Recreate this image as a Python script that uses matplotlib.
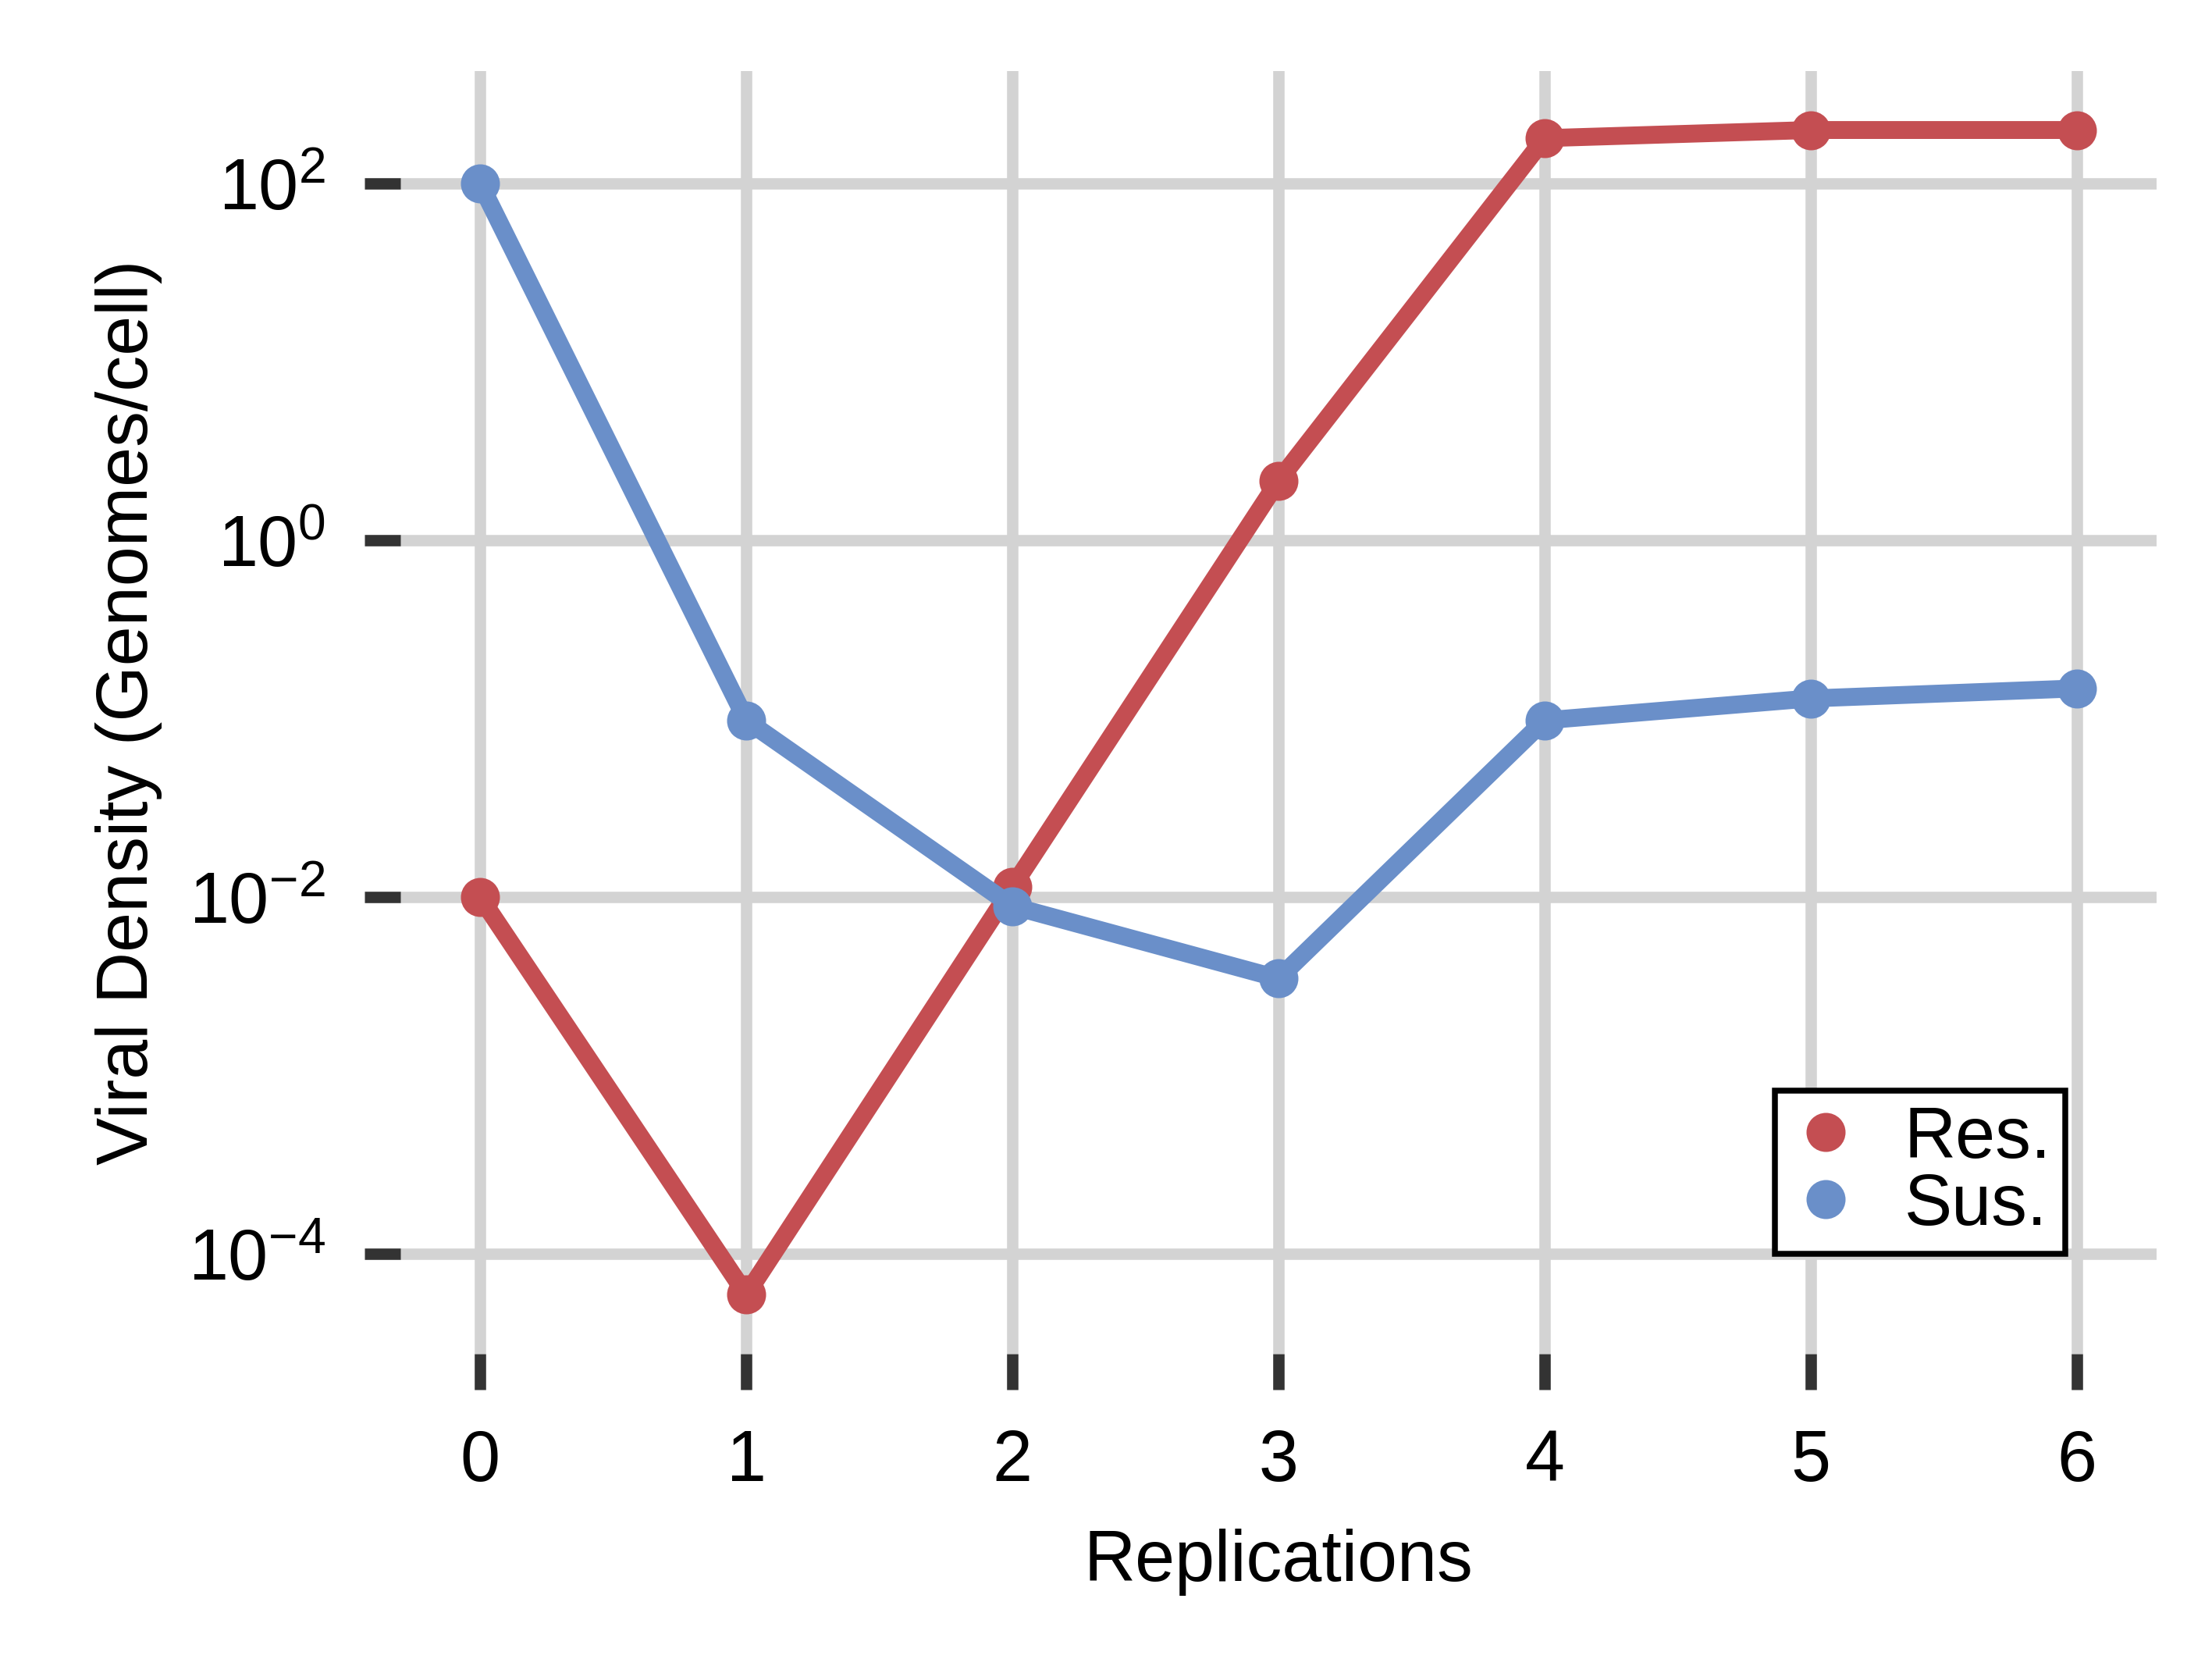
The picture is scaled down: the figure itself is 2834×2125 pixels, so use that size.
import matplotlib
matplotlib.use("Agg")
import matplotlib.pyplot as plt

replications = [0, 1, 2, 3, 4, 5, 6]
res = [1e-2, 5.9e-5, 1.14e-2, 2.16, 180, 200, 200]
sus = [100, 0.098, 0.0089, 0.0035, 0.098, 0.13, 0.148]

plt.rcParams['font.family'] = ['Liberation Sans', 'DejaVu Sans']
plt.rcParams['mathtext.fontset'] = 'custom'
plt.rcParams['mathtext.rm'] = 'Liberation Sans'
fig = plt.figure(figsize=(2834/300, 2125/300), dpi=300)
ax = fig.add_axes([0.181, 0.184, 0.794, 0.773])
red = '#C44E52'
blue = '#6A8FC9'
ax.plot(replications, res, color=red, lw=5.5, marker='o', ms=11, label='Res.', zorder=3)
ax.plot(replications, sus, color=blue, lw=5.5, marker='o', ms=11, label='Sus.', zorder=3)
ax.set_yscale('log')
ax.set_xlim(-0.3, 6.3)
ax.set_ylim(10**-4.56, 10**2.63)
ax.set_yticks([1e-4, 1e-2, 1e0, 1e2])
ax.minorticks_off()
ax.set_xticks(replications)
ax.grid(True, color='#D3D3D3', lw=3.5)
ax.set_axisbelow(True)
for s in ax.spines.values():
    s.set_visible(False)
ax.tick_params(axis='both', length=11, width=3.5, color='#333333', labelsize=22, pad=12)
ax.set_xlabel('Replications', fontsize=22, labelpad=10)
ax.set_ylabel('Viral Density (Genomes/cell)', fontsize=22, labelpad=8)
leg = ax.legend(loc='lower right', fontsize=22, frameon=True, fancybox=False,
                handlelength=1.0, handletextpad=0.6, borderpad=0.2, labelspacing=0.0,
                borderaxespad=0, bbox_to_anchor=(0.948, 0.078))
for h in leg.legend_handles:
    h.set_linestyle('')
leg.get_frame().set_edgecolor('black')
leg.get_frame().set_linewidth(1.8)
leg.get_frame().set_alpha(1)
fig.savefig('out.png', dpi=300)
